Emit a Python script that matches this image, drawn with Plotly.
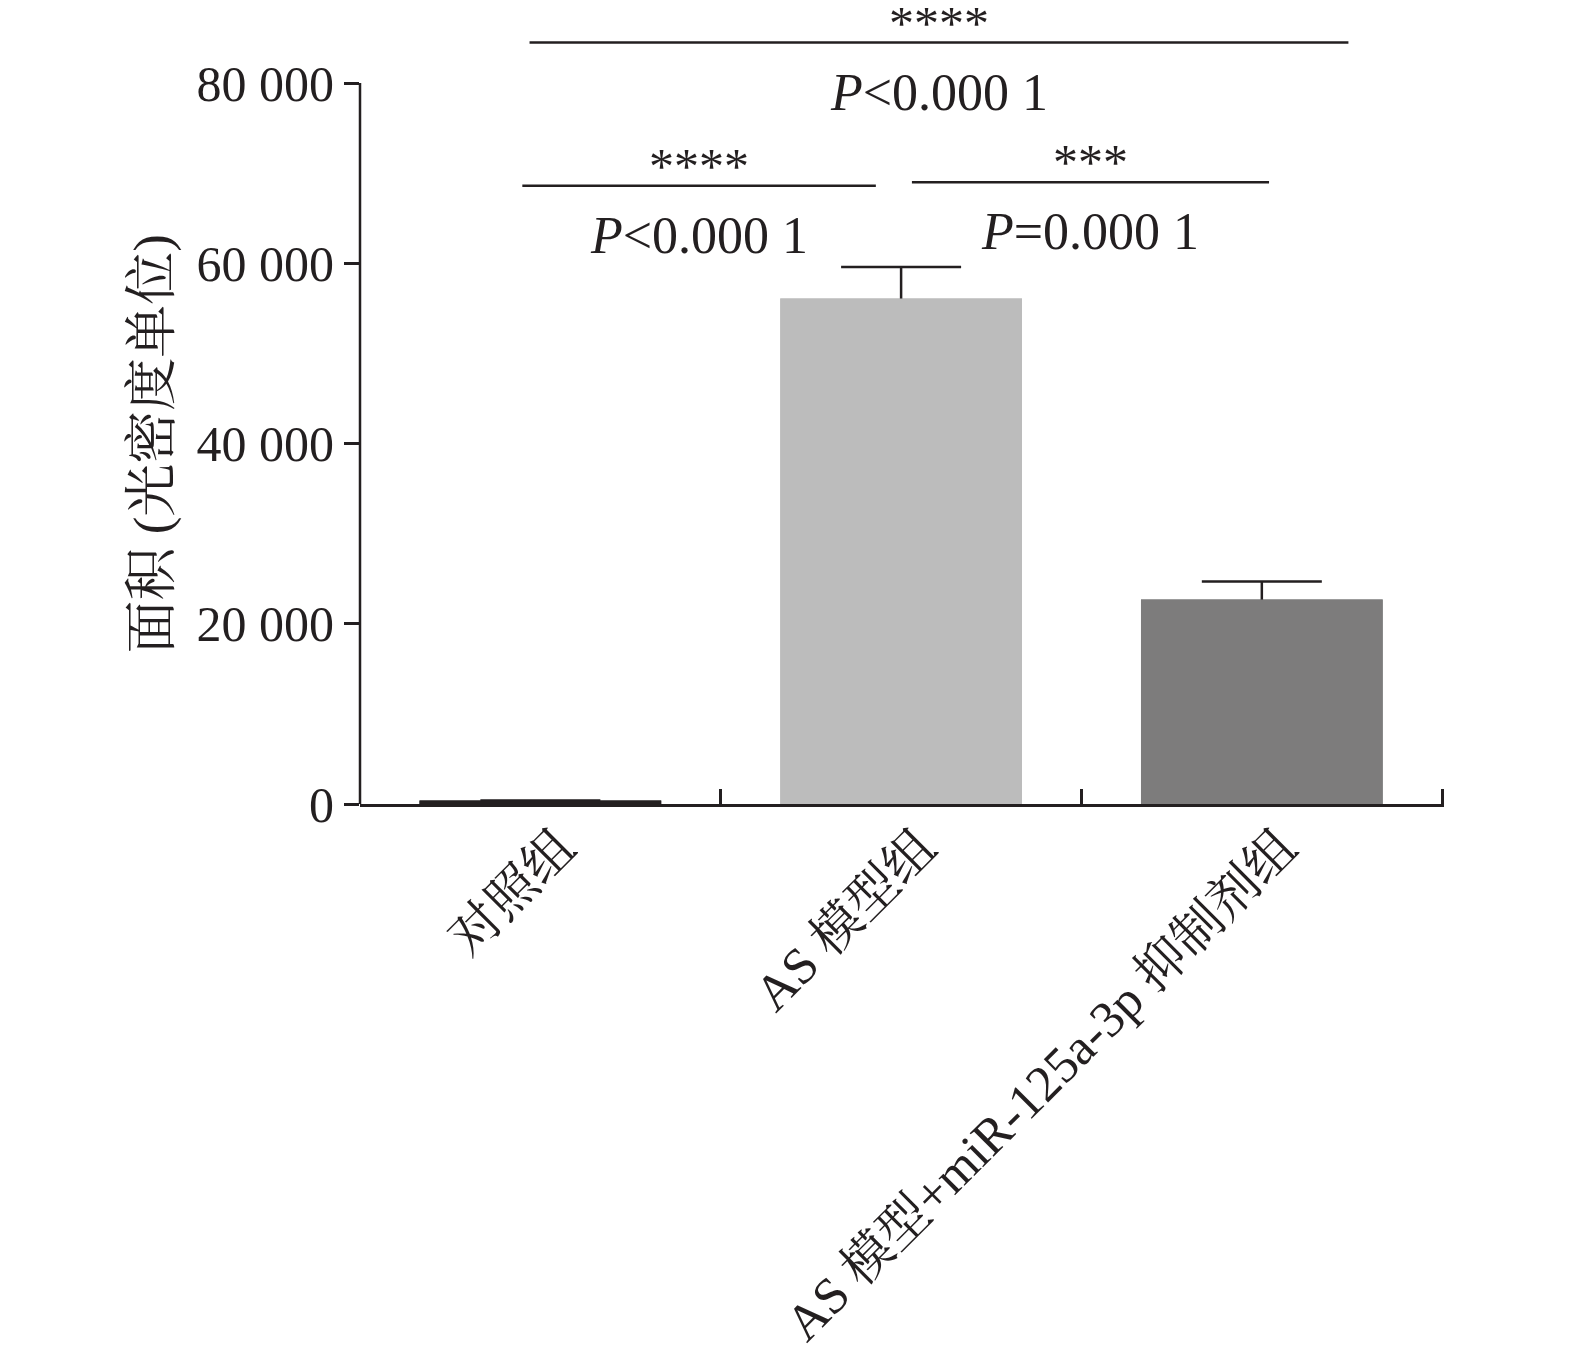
import plotly.graph_objects as go

# data
groups = ["对照组", "AS 模型组", "AS 模型+miR-125a-3p 抑制剂组"]
area = [400, 56100, 22700]
err_up = [0, 3500, 2000]
bar_colors = ["#231f20", "#bcbcbc", "#7d7c7c"]

y_ticks = [0, 20000, 40000, 60000, 80000]
y_title = "面积 (光密度单位)"

# significance brackets: (from, to, y of line, stars, p text)
brackets = [
    (-0.03, 2.24, 84500, "****", "<i>P</i><0.000 1"),
    (-0.05, 0.93, 68600, "****", "<i>P</i><0.000 1"),
    (1.03, 2.02, 69000, "***", "<i>P</i>=0.000 1"),
]

INK = "#231f20"
FONT = "Liberation Serif, Times New Roman, Noto Serif CJK SC, Noto Sans CJK SC, serif"

fig = go.Figure()
# bars with error bars; lower half of the error bar gets hidden by the
# second (identical) bar trace drawn on top
fig.add_trace(go.Bar(
    x=groups, y=area, width=0.67,
    marker=dict(color=bar_colors, line=dict(width=0)),
    error_y=dict(type="data", array=err_up, color=INK,
                 thickness=2.5, width=60, visible=True),
))
fig.add_trace(go.Bar(
    x=groups, y=area, width=0.67,
    marker=dict(color=bar_colors, line=dict(width=0)),
    hoverinfo="skip",
))

# y axis line only up to 80 000 (range goes higher to hold the brackets)
fig.add_shape(type="line", xref="paper", yref="y", x0=0, x1=0, y0=0, y1=80000,
              line=dict(color=INK, width=2.5))

for x0, x1, yl, stars, ptxt in brackets:
    fig.add_shape(type="line", xref="x", yref="y", x0=x0, x1=x1, y0=yl, y1=yl,
                  line=dict(color=INK, width=2.5))
    xm = (x0 + x1) / 2
    fig.add_annotation(x=xm, y=yl, xref="x", yref="y", text=stars,
                       showarrow=False, yanchor="bottom", yshift=-10,
                       font=dict(family=FONT, size=50, color=INK))
    fig.add_annotation(x=xm, y=yl, xref="x", yref="y", text=ptxt,
                       showarrow=False, yanchor="top", yshift=-19,
                       font=dict(family=FONT, size=52, color=INK))

# axis title centred on the 0-80 000 part of the axis
fig.add_annotation(x=0, xref="paper", y=y_ticks[-1] / 2, yref="y",
                   text=y_title, textangle=-90, showarrow=False,
                   xanchor="center", yanchor="middle", xshift=-207,
                   font=dict(family=FONT, size=53, color=INK))

fig.update_layout(
    width=1559, height=1345,
    margin=dict(l=352, r=123, t=21, b=549),
    paper_bgcolor="white", plot_bgcolor="white",
    showlegend=False, barmode="overlay",
    separators=". ",
    font=dict(family=FONT, size=48, color=INK),
    xaxis=dict(
        range=[-0.5, 2.505], automargin=False,
        showline=True, linecolor=INK, linewidth=2.5,
        ticks="inside", ticklen=15, tickwidth=2.5, tickcolor=INK,
        tickson="boundaries", tickangle=-45,
        ticklabelshift=20, ticklabelstandoff=-10,
        tickfont=dict(family=FONT, size=51, color=INK),
        showgrid=False, zeroline=False,
    ),
    yaxis=dict(
        range=[0, 86000], automargin=False,
        tickvals=y_ticks, tickformat=",d",
        ticks="outside", ticklen=15, tickwidth=2.5, tickcolor=INK,
        tickfont=dict(family=FONT, size=50, color=INK),
        showline=False, showgrid=False, zeroline=False,
    ),
)

fig.write_html("out.html")
